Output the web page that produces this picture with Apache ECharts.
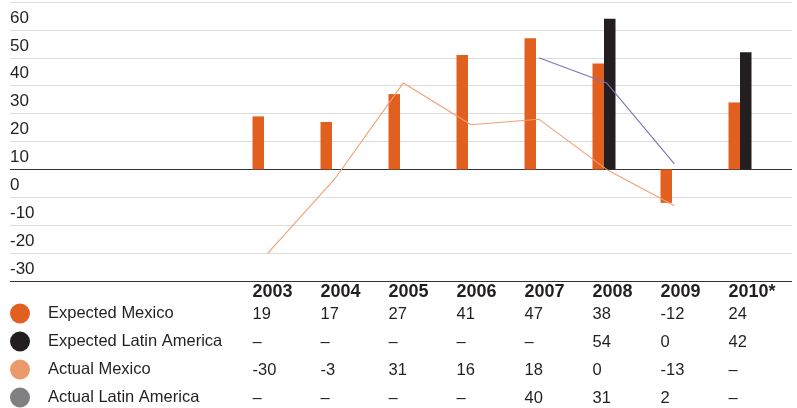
<!DOCTYPE html>
<html>
<head>
<meta charset="utf-8">
<script src="https://cdn.jsdelivr.net/npm/echarts@6/dist/echarts.min.js"></script>
<style>
  html, body { margin: 0; padding: 0; background: #fff; }
  #chart { width: 797px; height: 408px; }
</style>
</head>
<body>
<div id="chart"></div>
<script>
// Categories and series values
const years = ['2003', '2004', '2005', '2006', '2007', '2008', '2009', '2010*'];
const expectedMexico = [19, 17, 27, 41, 47, 38, -12, 24];
const expectedLatAm = [null, null, null, null, null, 54, 0, 42];
const actualMexico = [-30, -3, 31, 16, 18, 0, -13, null];
const actualLatAm = [null, null, null, null, 40, 31, 2, null];

const seriesNames = ['Expected Mexico', 'Expected Latin America', 'Actual Mexico', 'Actual Latin America'];
const tableRows = [expectedMexico, expectedLatAm, actualMexico, actualLatAm];

const C_ORANGE = '#e2601f';
const C_BLACK = '#231f20';
const C_LIGHT = '#f0a073';
const C_PURPLE = '#7f72b3';
const C_GREY = '#808082';
const C_TEXT = '#231f20';
const FONT = '"Liberation Sans", Arial, sans-serif';

const Y_MIN = -40, Y_MAX = 60, Y_STEP = 10;
const GRID_TOP = 2, GRID_BOTTOM = 127;

// split line colours: dark rule at the bottom (-40) and at zero
const splitColors = [];
for (let v = Y_MIN; v <= Y_MAX; v += Y_STEP) {
  splitColors.push(v === Y_MIN || v === 0 ? '#333333' : '#dcdcdc');
}

const chart = echarts.init(document.getElementById('chart'), null, { renderer: 'canvas' });

const hiddenY = { type: 'value', min: Y_MIN, max: Y_MAX, interval: Y_STEP, show: false, splitLine: { show: false } };

chart.setOption({
  animation: false,
  backgroundColor: '#fff',
  textStyle: { fontFamily: FONT },
  grid: [
    { left: 10, right: 5, top: GRID_TOP, bottom: GRID_BOTTOM },      // background rules + y labels
    { left: 230, right: 23, top: GRID_TOP, bottom: GRID_BOTTOM },    // bars
    { left: 234, right: 21, top: GRID_TOP, bottom: GRID_BOTTOM }     // lines
  ],
  xAxis: [
    { gridIndex: 0, type: 'category', data: years, show: false },
    { gridIndex: 1, type: 'category', data: years, show: false },
    { gridIndex: 2, type: 'category', data: years, show: false }
  ],
  yAxis: [
    {
      gridIndex: 0, type: 'value', min: Y_MIN, max: Y_MAX, interval: Y_STEP,
      axisLine: { show: false }, axisTick: { show: false },
      splitLine: { show: true, lineStyle: { color: splitColors, width: 1 } },
      axisLabel: {
        inside: true, margin: 0, align: 'left', verticalAlign: 'top',
        padding: [7.5, 0, 0, 0], showMinLabel: false,
        color: C_TEXT, fontSize: 17, fontFamily: FONT
      }
    },
    Object.assign({ gridIndex: 1 }, hiddenY),
    Object.assign({ gridIndex: 2 }, hiddenY)
  ],
  legend: {
    orient: 'vertical', left: 10, top: 303.5, padding: 0,
    itemWidth: 20, itemHeight: 20, itemGap: 8, icon: 'circle',
    selectedMode: false,
    textStyle: { fontSize: 16.5, color: C_TEXT, fontFamily: FONT, padding: [2, 0, 0, 13] },
    data: [
      { name: seriesNames[0], itemStyle: { color: C_ORANGE } },
      { name: seriesNames[1], itemStyle: { color: C_BLACK } },
      { name: seriesNames[2], itemStyle: { color: '#eb9a6b' } },
      { name: seriesNames[3], itemStyle: { color: C_GREY } }
    ]
  },
  series: [
    {
      name: seriesNames[0], type: 'bar', xAxisIndex: 1, yAxisIndex: 1,
      data: expectedMexico, barWidth: 11.5, barGap: 0,
      itemStyle: { color: C_ORANGE }, z: 2
    },
    {
      name: seriesNames[1], type: 'bar', xAxisIndex: 1, yAxisIndex: 1,
      data: expectedLatAm, barWidth: 11.5, barGap: 0,
      itemStyle: { color: C_BLACK }, z: 2
    },
    {
      name: seriesNames[2], type: 'line', xAxisIndex: 2, yAxisIndex: 2,
      data: actualMexico, showSymbol: false, symbol: 'none',
      lineStyle: { color: C_LIGHT, width: 1.1 }, itemStyle: { color: C_LIGHT }, z: 3
    },
    {
      name: seriesNames[3], type: 'line', xAxisIndex: 2, yAxisIndex: 2,
      data: actualLatAm, showSymbol: false, symbol: 'none',
      lineStyle: { color: C_PURPLE, width: 1.1 }, itemStyle: { color: C_PURPLE }, z: 3
    }
  ]
});

// Data table under the plot, columns aligned to the bar categories
const HEADER_Y = 292.5;
const ROW_Y = [314.5, 342.5, 370.5, 398.5];
const COL_SHIFT = -11.5;
const fmt = v => (v == null ? '\u2013' : String(v));

const cells = [];
years.forEach((yr, i) => {
  const x = chart.convertToPixel({ xAxisIndex: 1 }, yr) + COL_SHIFT;
  cells.push({
    type: 'text', x: x, y: HEADER_Y, silent: true,
    style: { text: yr, fontFamily: FONT, fontSize: 18, fontWeight: 'bold', fill: C_TEXT, align: 'left', verticalAlign: 'middle' }
  });
  tableRows.forEach((row, r) => {
    cells.push({
      type: 'text', x: x, y: ROW_Y[r], silent: true,
      style: { text: fmt(row[i]), fontFamily: FONT, fontSize: 16.5, fill: C_TEXT, align: 'left', verticalAlign: 'middle' }
    });
  });
});

chart.setOption({ graphic: { elements: cells } });
</script>
</body>
</html>
